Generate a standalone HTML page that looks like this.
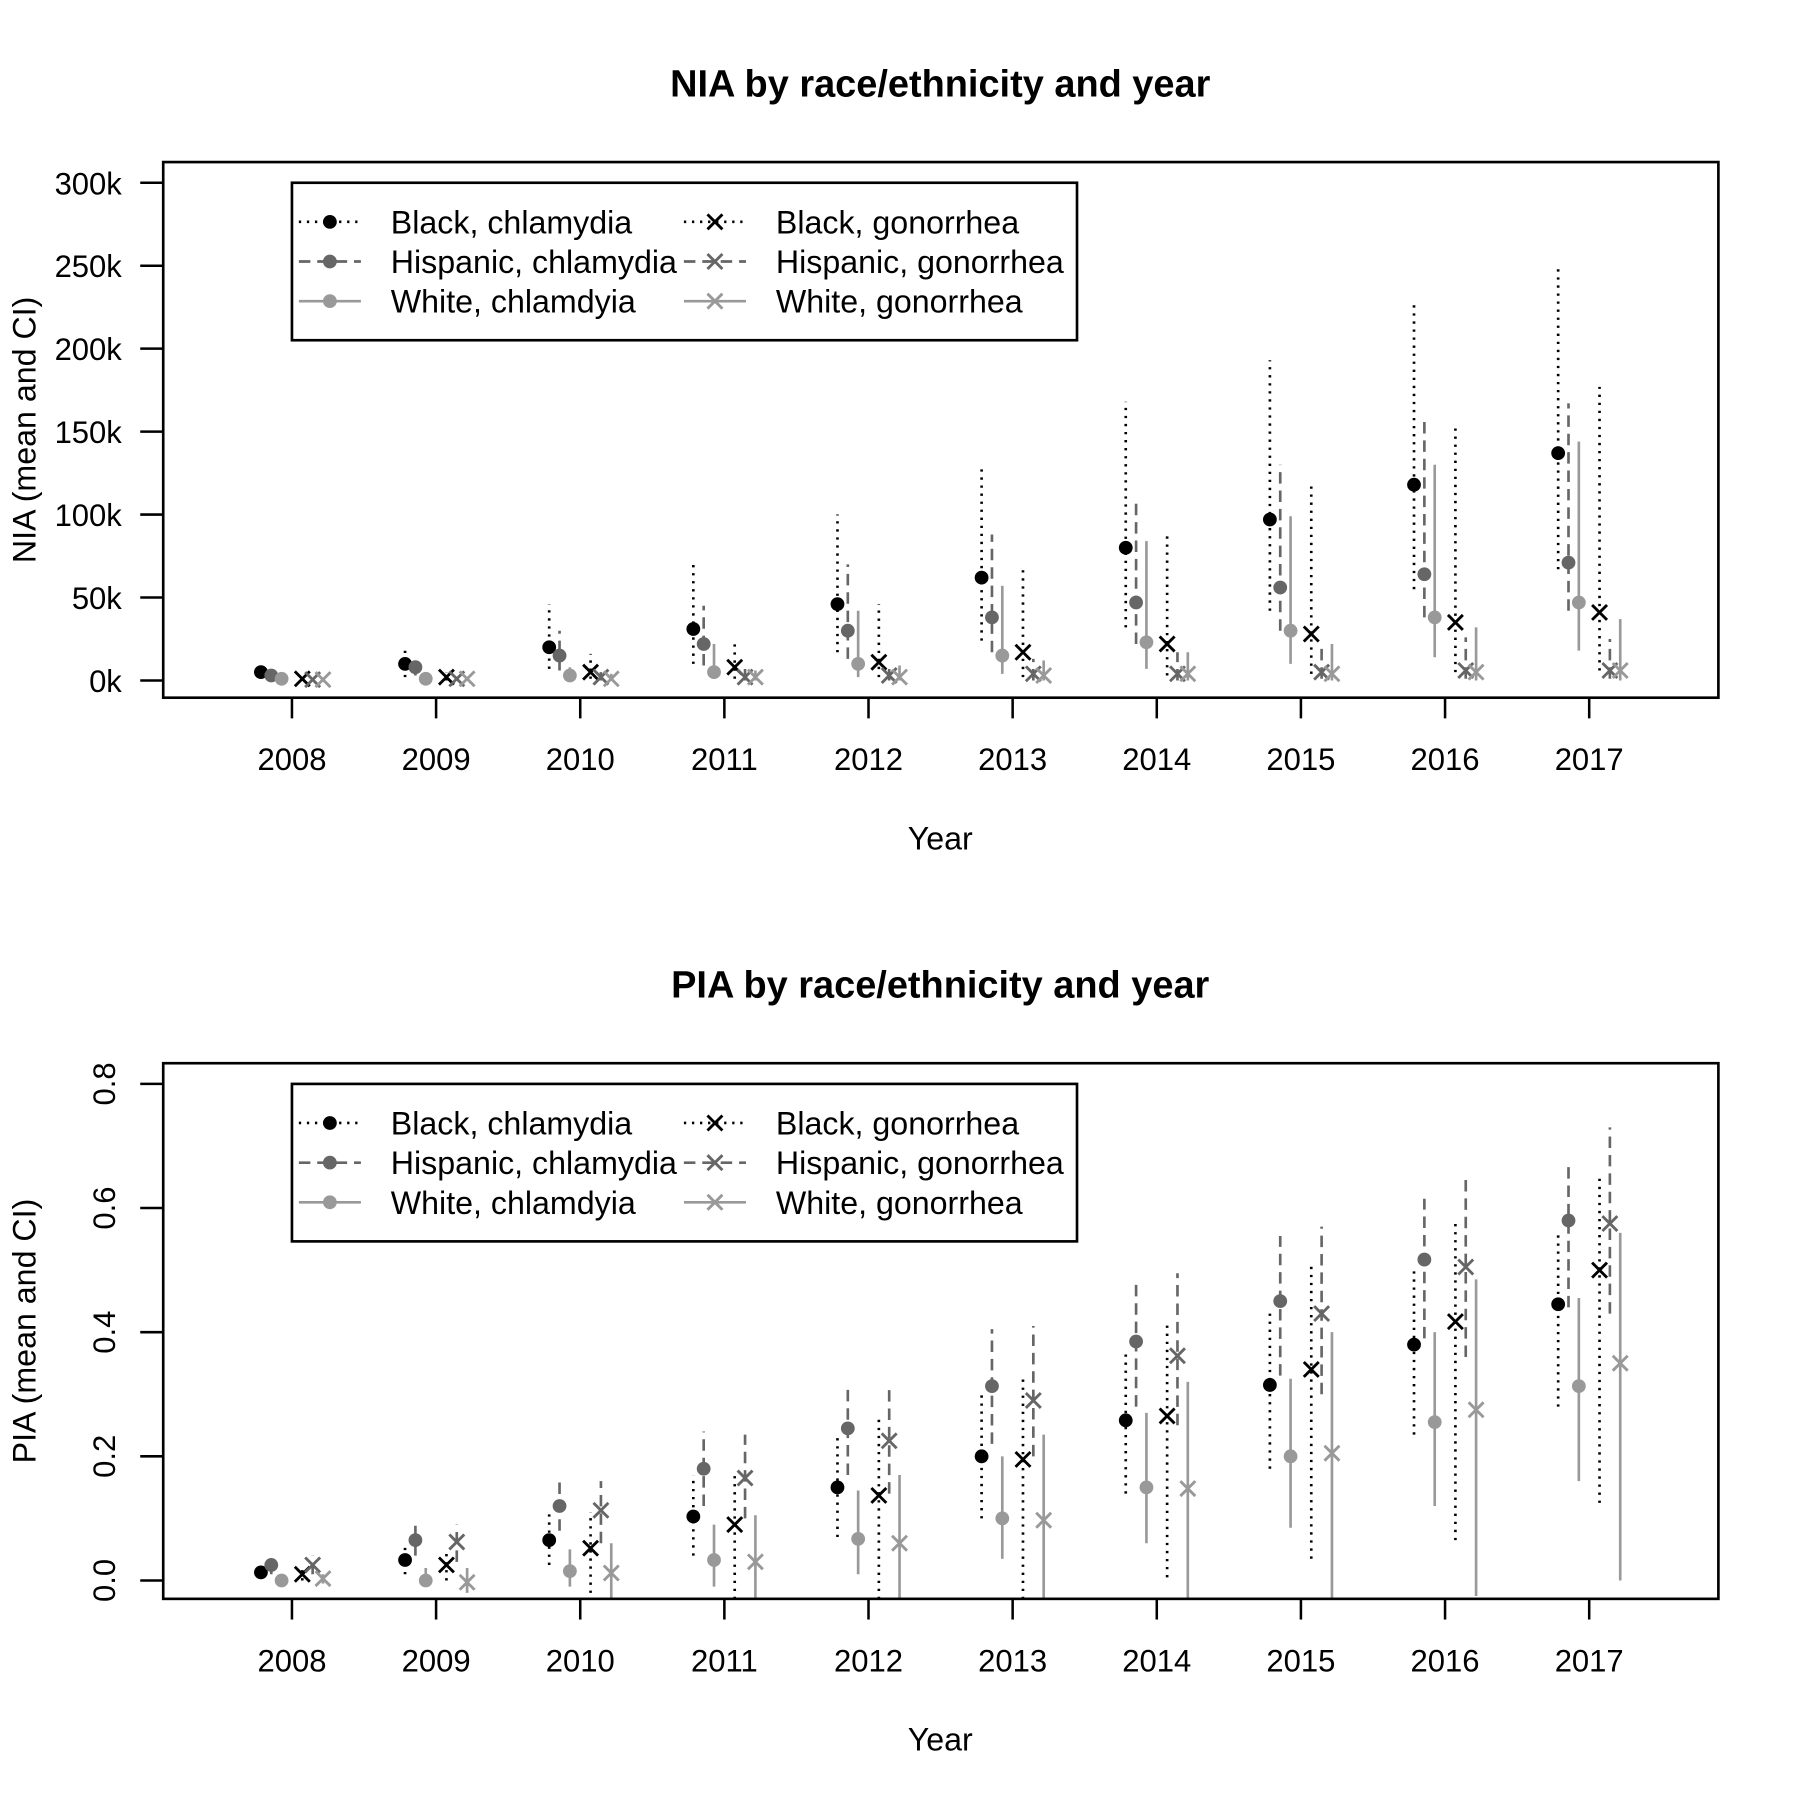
<!DOCTYPE html>
<html><head><meta charset="utf-8">
<style>html,body{margin:0;padding:0;background:#fff}svg{display:block}text{font-family:"Liberation Sans",Arial,sans-serif}</style>
</head><body>
<svg id="svg" width="1800" height="1800" viewBox="0 0 1566 1566" xmlns="http://www.w3.org/2000/svg"></svg>
<script>
const years = [2008,2009,2010,2011,2012,2013,2014,2015,2016,2017];
const seriesNames = ["Black, chlamydia","Hispanic, chlamydia","White, chlamdyia","Black, gonorrhea","Hispanic, gonorrhea","White, gonorrhea"];
// NIA (thousands): mean, low, high
const niaBlackChlMean = [5,10,20,31,46,62,80,97,118,137];
const niaBlackChlLo   = [3,2,7,10,17,24,32,42,55,67];
const niaBlackChlHi   = [7,18,46,71,100,128,168,193,227,251];
const niaHispChlMean  = [3,8,15,22,30,38,47,56,64,71];
const niaHispChlLo    = [1,3,6,9,13,17,22,30,38,42];
const niaHispChlHi    = [5,13,30,45,70,88,110,130,157,167];
const niaWhiteChlMean = [1,1,3,5,10,15,23,30,38,47];
const niaWhiteChlLo   = [0,0,0,1,2,4,7,10,14,18];
const niaWhiteChlHi   = [2,2,8,22,42,57,84,99,130,144];
const niaBlackGonMean = [1,2,5,8,11,17,22,28,35,41];
const niaBlackGonLo   = [0,0,1,1,2,2,3,4,5,6];
const niaBlackGonHi   = [3,5,16,24,46,68,90,120,152,177];
const niaHispGonMean  = [0.5,1,2,2,3,4,4,5,6,6];
const niaHispGonLo    = [0,0,0,0,0,0,0,1,1,1];
const niaHispGonHi    = [1,2,5,7,10,13,17,22,26,25];
const niaWhiteGonMean = [0.5,1,1,2,2,3,4,4,5,6];
const niaWhiteGonLo   = [0,0,0,0,0,0,0,0,0,0];
const niaWhiteGonHi   = [1,2,4,6,9,12,17,22,32,37];
// PIA
const piaBlackChlMean = [0.013,0.033,0.065,0.103,0.15,0.2,0.258,0.315,0.38,0.445];
const piaBlackChlLo   = [0.005,0.01,0.025,0.04,0.07,0.1,0.14,0.18,0.235,0.28];
const piaBlackChlHi   = [0.02,0.06,0.11,0.17,0.23,0.3,0.37,0.43,0.5,0.56];
const piaHispChlMean  = [0.025,0.065,0.12,0.18,0.245,0.313,0.385,0.45,0.517,0.58];
const piaHispChlLo    = [0.01,0.04,0.08,0.12,0.17,0.22,0.28,0.33,0.39,0.44];
const piaHispChlHi    = [0.035,0.095,0.165,0.24,0.31,0.405,0.485,0.555,0.615,0.675];
const piaWhiteChlMean = [0,0,0.015,0.033,0.067,0.1,0.15,0.2,0.255,0.313];
const piaWhiteChlLo   = [-0.01,-0.01,-0.01,-0.01,0.01,0.035,0.06,0.085,0.12,0.16];
const piaWhiteChlHi   = [0.01,0.02,0.05,0.09,0.145,0.2,0.27,0.325,0.4,0.455];
const piaBlackGonMean = [0.01,0.025,0.052,0.09,0.137,0.195,0.265,0.34,0.417,0.5];
const piaBlackGonLo   = [0,0,-0.02,-0.03,-0.03,-0.03,0.005,0.035,0.065,0.125];
const piaBlackGonHi   = [0.02,0.05,0.11,0.17,0.26,0.33,0.415,0.51,0.58,0.655];
const piaHispGonMean  = [0.025,0.062,0.113,0.165,0.225,0.29,0.362,0.43,0.505,0.575];
const piaHispGonLo    = [0.01,0.03,0.06,0.1,0.14,0.2,0.25,0.3,0.36,0.43];
const piaHispGonHi    = [0.04,0.09,0.16,0.235,0.31,0.41,0.495,0.57,0.655,0.73];
const piaWhiteGonMean = [0.003,-0.003,0.012,0.03,0.06,0.097,0.148,0.205,0.275,0.35];
const piaWhiteGonLo   = [-0.005,-0.02,-0.03,-0.03,-0.03,-0.03,-0.03,-0.03,-0.025,0];
const piaWhiteGonHi   = [0.01,0.02,0.06,0.105,0.17,0.235,0.32,0.4,0.485,0.56];
const niaTicks = [0,50,100,150,200,250,300];
const niaTickLabels = ["0k","50k","100k","150k","200k","250k","300k"];
const piaTicks = [0,0.2,0.4,0.6,0.8];
const piaTickLabels = ["0.0","0.2","0.4","0.6","0.8"];

const NS="http://www.w3.org/2000/svg";
const svg=document.getElementById('svg');
function mk(tag,attrs,parent){const e=document.createElementNS(NS,tag);for(const k in attrs)e.setAttribute(k,attrs[k]);(parent||svg).appendChild(e);return e;}
const colors=["#000","#666","#999","#000","#666","#999"];
const dashes=["2,5","10,6","none","2,5","10,6","none"];
const offsets=[-27,-18,-9,9,18,27];
function xs(yr){return 254+(yr-2008)*125.4;}

function panel(cfg){
  const g=mk('g',{});
  
  
  const ys=v=>cfg.y0+(v-cfg.v0)*(cfg.y1-cfg.y0)/(cfg.v1-cfg.v0);
  const t=mk('text',{x:818,y:cfg.titleY,'text-anchor':'middle','font-size':33,'font-weight':'bold'},g);t.textContent=cfg.title;
  
  const xl=mk('text',{x:818,y:cfg.xlabY,'text-anchor':'middle','font-size':28},g);xl.textContent="Year";
  
  const yc=(cfg.top+cfg.bot)/2;
  const yl=mk('text',{x:31,y:yc,'text-anchor':'middle','font-size':28,transform:`rotate(-90 31 ${yc})`},g);yl.textContent=cfg.ylab;
  
  const ya=mk('g',{},g);
  cfg.ticks.forEach((v,i)=>{
    mk('line',{x1:122,x2:142,y1:ys(v),y2:ys(v),stroke:'#000','stroke-width':2.2},ya);
    let tx;
    if(cfg.rot){tx=mk('text',{x:100,y:ys(v),'text-anchor':'middle','font-size':27,transform:`rotate(-90 100 ${ys(v)})`},ya);}
    else{tx=mk('text',{x:106,y:ys(v)+10,'text-anchor':'end','font-size':27},ya);}
    tx.textContent=cfg.labels[i];
    
  });
  const xa=mk('g',{},g);
  years.forEach(yr=>{
    mk('line',{x1:xs(yr),x2:xs(yr),y1:cfg.bot,y2:cfg.bot+18,stroke:'#000','stroke-width':2.2},xa);
    const tx=mk('text',{x:xs(yr),y:cfg.bot+63,'text-anchor':'middle','font-size':27},xa);tx.textContent=yr;
    
  });
  const clipId='clip'+cfg.name;
  const cp=mk('clipPath',{id:clipId},g);mk('rect',{x:142,y:cfg.top,width:1353,height:cfg.bot-cfg.top},cp);
  const pg=mk('g',{'clip-path':`url(#${clipId})`},g);
  cfg.series.forEach((s,si)=>{
    const sg=mk('g',{},pg);
    
    
    years.forEach((yr,i)=>{
      const x=xs(yr)+offsets[si];
      const l=mk('line',{x1:x,x2:x,y1:ys(s[1][i]),y2:ys(s[2][i]),stroke:colors[si],'stroke-width':2.3,'stroke-dasharray':dashes[si]},sg);
      
      const y=ys(s[0][i]);
      if(si<3){const c=mk('circle',{cx:x,cy:y,r:6,fill:colors[si]},sg);
        }
      else{const p=mk('path',{d:`M${x-6.5},${y-6.5}L${x+6.5},${y+6.5}M${x-6.5},${y+6.5}L${x+6.5},${y-6.5}`,stroke:colors[si],'stroke-width':2.5},sg);
        }
    });
  });
  const box=mk('rect',{x:142,y:cfg.top,width:1353,height:cfg.bot-cfg.top,fill:'none',stroke:'#000','stroke-width':2.3},g);
  
  const lg=mk('g',{},g);
  const lt=cfg.legTop;
  mk('rect',{x:254,y:lt,width:683,height:137,fill:'#fff',stroke:'#000','stroke-width':2.3},lg);
  seriesNames.forEach((nm,si)=>{
    const col=si<3?0:1,row=si%3;
    const cx=col?622:287, cy=lt+34+row*34.5;
    const e=mk('g',{},lg);
    mk('line',{x1:cx-27,x2:cx+27,y1:cy,y2:cy,stroke:colors[si],'stroke-width':2.3,'stroke-dasharray':dashes[si]},e);
    if(si<3)mk('circle',{cx:cx,cy:cy,r:6,fill:colors[si]},e);
    else mk('path',{d:`M${cx-6.5},${cy-6.5}L${cx+6.5},${cy+6.5}M${cx-6.5},${cy+6.5}L${cx+6.5},${cy-6.5}`,stroke:colors[si],'stroke-width':2.5},e);
    const tx=mk('text',{x:col?675:340,y:cy+10,'font-size':28},e);tx.textContent=nm;
  });
}
panel({name:'nia-panel',title:'NIA by race/ethnicity and year',titleY:84,xlabY:739,ylab:'NIA (mean and CI)',
  top:141,bot:607,y0:592,y1:159,v0:0,v1:300,ticks:niaTicks,labels:niaTickLabels,rot:false,legTop:159,
  series:[[niaBlackChlMean,niaBlackChlLo,niaBlackChlHi],[niaHispChlMean,niaHispChlLo,niaHispChlHi],[niaWhiteChlMean,niaWhiteChlLo,niaWhiteChlHi],
          [niaBlackGonMean,niaBlackGonLo,niaBlackGonHi],[niaHispGonMean,niaHispGonLo,niaHispGonHi],[niaWhiteGonMean,niaWhiteGonLo,niaWhiteGonHi]]});
panel({name:'pia-panel',title:'PIA by race/ethnicity and year',titleY:868,xlabY:1523,ylab:'PIA (mean and CI)',
  top:925,bot:1391,y0:1375,y1:943,v0:0,v1:0.8,ticks:piaTicks,labels:piaTickLabels,rot:true,legTop:943,
  series:[[piaBlackChlMean,piaBlackChlLo,piaBlackChlHi],[piaHispChlMean,piaHispChlLo,piaHispChlHi],[piaWhiteChlMean,piaWhiteChlLo,piaWhiteChlHi],
          [piaBlackGonMean,piaBlackGonLo,piaBlackGonHi],[piaHispGonMean,piaHispGonLo,piaHispGonHi],[piaWhiteGonMean,piaWhiteGonLo,piaWhiteGonHi]]});
</script>
</body></html>
